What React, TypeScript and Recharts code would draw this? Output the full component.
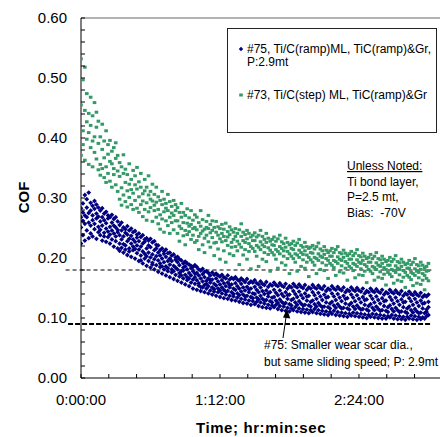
import React from 'react';
import { ScatterChart, Scatter, XAxis, YAxis, ReferenceLine } from 'recharts';

// time in minutes, then COF readings at that time (series #75, blue)
const blueSlices: number[][] = [
  [0, .224, .251, .268, .283], [1, .238, .262, .291, .276], [2, .229, .257, .305, .271], [3, .246, .268, .284, .298],
  [4, .233, .259, .275, .309], [5, .241, .254, .279, .292], [6, .236, .263, .271, .287], [7, .248, .257, .282, .295],
  [8, .232, .266, .274, .289], [9, .243, .252, .269, .284],
  [10, .238, .261, .247, .279], [11, .229, .254, .268, .283], [12, .242, .236, .263, .274], [13, .227, .249, .258, .277],
  [14, .235, .244, .266, .271], [15, .224, .252, .239, .268], [16, .231, .246, .259, .272], [17, .219, .241, .254, .265],
  [18, .228, .236, .251, .268], [19, .216, .243, .247, .261],
  [20, .224, .238, .212, .255], [21, .217, .231, .246, .259], [22, .209, .236, .223, .251], [23, .221, .214, .242, .248],
  [24, .205, .228, .239, .253], [25, .216, .232, .211, .246], [26, .202, .224, .237, .249], [27, .213, .219, .231, .243],
  [28, .199, .227, .215, .245], [29, .208, .221, .234, .239],
  [30, .195, .214, .228, .241], [31, .204, .219, .196, .235], [32, .191, .211, .224, .238], [33, .199, .207, .227, .231],
  [34, .187, .216, .203, .233], [35, .195, .209, .221, .229], [36, .184, .201, .218, .232], [37, .192, .206, .189, .226],
  [38, .181, .213, .198, .228], [39, .188, .203, .216, .222],
  [40, .177, .196, .209, .221], [41, .185, .191, .213, .204], [42, .174, .199, .186, .216], [43, .181, .193, .207, .211],
  [44, .171, .186, .202, .214], [45, .178, .195, .183, .208], [46, .168, .189, .199, .209], [47, .176, .181, .204, .195],
  [48, .165, .187, .178, .206], [49, .172, .184, .197, .201],
  [50, .162, .181, .193, .202], [51, .169, .175, .188, .198], [52, .159, .178, .171, .196], [53, .166, .184, .191, .179],
  [54, .156, .172, .186, .194], [55, .163, .168, .181, .191], [56, .153, .175, .166, .189], [57, .159, .171, .183, .187],
  [58, .149, .164, .178, .185], [59, .157, .168, .174, .188],
  [60, .147, .163, .175, .185], [61, .154, .158, .171, .181], [62, .145, .166, .152, .179], [63, .151, .161, .173, .182],
  [64, .143, .155, .168, .177], [65, .149, .162, .157, .178], [66, .141, .153, .166, .175], [67, .146, .159, .171, .163],
  [68, .139, .151, .164, .176], [69, .144, .157, .148, .172],
  [70, .137, .154, .166, .174], [71, .143, .149, .161, .171], [72, .135, .156, .146, .169], [73, .141, .151, .163, .172],
  [74, .133, .147, .158, .168], [75, .139, .153, .144, .166], [76, .132, .145, .159, .171], [77, .137, .151, .164, .155],
  [78, .130, .143, .156, .167], [79, .136, .149, .140, .165],
  [80, .129, .147, .158, .168], [81, .134, .141, .153, .164], [82, .127, .149, .138, .162], [83, .132, .144, .157, .166],
  [84, .125, .139, .151, .163], [85, .131, .146, .136, .160], [86, .124, .137, .152, .165], [87, .129, .143, .158, .148],
  [88, .122, .135, .149, .161], [89, .128, .141, .133, .159],
  [90, .123, .140, .152, .163], [91, .127, .134, .147, .158], [92, .120, .143, .131, .156], [93, .126, .137, .151, .161],
  [94, .118, .132, .145, .157], [95, .124, .140, .129, .155], [96, .117, .130, .146, .160], [97, .122, .136, .152, .141],
  [98, .116, .128, .143, .156], [99, .121, .134, .126, .154],
  [100, .118, .135, .147, .159], [101, .122, .129, .142, .155], [102, .115, .138, .125, .153], [103, .120, .131, .146, .158],
  [104, .113, .127, .140, .154], [105, .119, .136, .124, .152], [106, .112, .125, .143, .157], [107, .117, .132, .149, .138],
  [108, .111, .123, .139, .153], [109, .116, .130, .121, .151],
  [110, .113, .132, .145, .157], [111, .118, .126, .140, .153], [112, .111, .135, .122, .151], [113, .116, .128, .144, .156],
  [114, .110, .124, .138, .152], [115, .115, .133, .121, .150], [116, .109, .122, .141, .155], [117, .114, .129, .147, .136],
  [118, .108, .121, .137, .151], [119, .113, .127, .119, .149],
  [120, .110, .129, .143, .155], [121, .115, .123, .138, .151], [122, .108, .132, .119, .149], [123, .113, .125, .142, .154],
  [124, .107, .121, .136, .150], [125, .112, .130, .118, .148], [126, .106, .119, .139, .153], [127, .111, .126, .145, .134],
  [128, .105, .118, .135, .149], [129, .110, .124, .116, .147],
  [130, .107, .127, .141, .153], [131, .112, .121, .136, .149], [132, .105, .130, .117, .147], [133, .110, .123, .140, .152],
  [134, .104, .119, .134, .148], [135, .109, .128, .116, .146], [136, .103, .117, .137, .151], [137, .108, .124, .143, .132],
  [138, .102, .116, .133, .147], [139, .107, .122, .114, .145],
  [140, .104, .125, .139, .151], [141, .109, .119, .134, .147], [142, .103, .128, .115, .145], [143, .108, .121, .138, .150],
  [144, .102, .117, .132, .146], [145, .107, .126, .114, .144], [146, .101, .115, .135, .149], [147, .106, .122, .141, .130],
  [148, .100, .114, .131, .145], [149, .105, .120, .112, .143],
  [150, .102, .123, .137, .149], [151, .107, .117, .132, .145], [152, .101, .126, .113, .143], [153, .106, .119, .136, .148],
  [154, .100, .115, .130, .144], [155, .105, .124, .112, .142], [156, .099, .113, .133, .147], [157, .104, .120, .139, .128],
  [158, .099, .112, .129, .143], [159, .103, .118, .110, .141],
  [160, .101, .121, .135, .147], [161, .105, .115, .130, .143], [162, .099, .124, .111, .141], [163, .104, .117, .134, .146],
  [164, .098, .113, .128, .142], [165, .103, .122, .110, .140], [166, .098, .111, .131, .145], [167, .102, .118, .137, .126],
  [168, .097, .110, .127, .141], [169, .102, .116, .108, .139],
  [170, .099, .119, .133, .144], [171, .104, .113, .128, .140], [172, .098, .122, .109, .138], [173, .103, .115, .132, .143],
  [174, .097, .111, .126, .139], [175, .102, .120, .108, .137], [176, .098, .109, .129, .142], [177, .101, .116, .135, .124],
  [178, .099, .108, .125, .138], [179, .103, .114, .110, .136], [180, .105, .118, .127, .139],
];

// time in minutes, then COF readings at that time (series #73, green)
const greenSlices: number[][] = [
  [0, .371, .455, .532], [1, .412, .389, .497], [2, .446, .363, .518], [3, .398, .427, .474], [4, .356, .441, .409],
  [5, .384, .468, .421], [6, .437, .352, .395], [7, .402, .376, .459], [8, .365, .418, .443], [9, .391, .347, .428],
  [10, .356, .402, .338], [11, .381, .423, .349], [12, .334, .367, .395], [13, .412, .352, .326], [14, .373, .341, .389],
  [15, .328, .396, .361], [16, .357, .318, .378], [17, .384, .339, .349], [18, .322, .366, .392], [19, .345, .311, .371],
  [20, .336, .298, .359], [21, .317, .352, .288], [22, .341, .305, .372], [23, .294, .326, .348], [24, .312, .339, .285],
  [25, .357, .301, .323], [26, .289, .331, .314], [27, .308, .346, .281], [28, .322, .296, .337], [29, .283, .315, .351],
  [30, .302, .276, .327], [31, .318, .289, .341], [32, .269, .307, .295], [33, .331, .281, .312], [34, .292, .263, .318],
  [35, .305, .337, .277], [36, .284, .311, .298], [37, .261, .295, .323], [38, .306, .279, .288], [39, .293, .318, .268],
  [40, .281, .257, .302], [41, .296, .272, .248], [42, .265, .289, .311], [43, .277, .243, .298], [44, .291, .262, .283],
  [45, .254, .279, .306], [46, .268, .294, .241], [47, .286, .259, .275], [48, .247, .271, .296], [49, .279, .262, .289],
  [50, .262, .241, .284], [51, .276, .253, .228], [52, .249, .268, .291], [53, .237, .259, .276], [54, .271, .246, .222],
  [55, .258, .282, .239], [56, .244, .267, .253], [57, .231, .256, .279], [58, .263, .238, .249], [59, .251, .272, .226],
  [60, .247, .229, .268], [61, .236, .259, .214], [62, .253, .241, .279], [63, .222, .264, .245], [64, .248, .233, .209],
  [65, .261, .238, .251], [66, .227, .249, .271], [67, .242, .218, .256], [68, .234, .262, .246], [69, .251, .225, .204],
  [70, .243, .226, .261], [71, .215, .238, .252], [72, .249, .232, .198], [73, .227, .256, .241], [74, .236, .212, .248],
  [75, .258, .229, .193], [76, .221, .244, .235], [77, .239, .252, .207], [78, .226, .247, .218], [79, .243, .204, .231],
  [80, .236, .219, .249], [81, .212, .241, .228], [82, .247, .223, .189], [83, .218, .236, .257], [84, .229, .205, .243],
  [85, .239, .214, .226], [86, .198, .232, .246], [87, .224, .241, .211], [88, .235, .182, .219], [89, .216, .238, .229],
  [90, .229, .211, .242], [91, .203, .235, .221], [92, .238, .218, .186], [93, .214, .227, .246], [94, .222, .198, .236],
  [95, .231, .209, .219], [96, .194, .226, .241], [97, .217, .233, .206], [98, .228, .178, .213], [99, .209, .231, .222],
  [100, .221, .205, .235], [101, .198, .228, .214], [102, .232, .211, .183], [103, .207, .219, .238], [104, .216, .192, .227],
  [105, .224, .203, .212], [106, .188, .218, .233], [107, .211, .226, .199], [108, .222, .174, .207], [109, .203, .224, .216],
  [110, .214, .199, .228], [111, .193, .221, .207], [112, .225, .205, .178], [113, .201, .213, .231], [114, .209, .186, .221],
  [115, .218, .197, .206], [116, .183, .212, .226], [117, .205, .219, .193], [118, .216, .169, .201], [119, .197, .218, .209],
  [120, .208, .193, .221], [121, .188, .215, .201], [122, .219, .199, .174], [123, .196, .207, .225], [124, .203, .181, .215],
  [125, .212, .192, .201], [126, .179, .206, .219], [127, .199, .213, .188], [128, .209, .166, .196], [129, .191, .212, .203],
  [130, .203, .188, .216], [131, .184, .209, .196], [132, .214, .194, .171], [133, .191, .202, .219], [134, .198, .177, .209],
  [135, .207, .187, .196], [136, .175, .201, .213], [137, .194, .208, .183], [138, .204, .163, .191], [139, .186, .207, .198],
  [140, .198, .183, .211], [141, .179, .204, .191], [142, .208, .189, .167], [143, .186, .197, .214], [144, .193, .172, .204],
  [145, .202, .182, .191], [146, .171, .196, .208], [147, .189, .203, .178], [148, .199, .159, .186], [149, .181, .201, .193],
  [150, .193, .178, .206], [151, .174, .199, .186], [152, .203, .184, .163], [153, .181, .192, .209], [154, .188, .168, .199],
  [155, .197, .177, .186], [156, .166, .191, .203], [157, .184, .198, .173], [158, .194, .155, .181], [159, .176, .196, .188],
  [160, .188, .173, .201], [161, .169, .194, .181], [162, .198, .179, .158], [163, .176, .187, .204], [164, .183, .163, .194],
  [165, .192, .172, .181], [166, .161, .186, .198], [167, .179, .193, .168], [168, .189, .151, .176], [169, .171, .191, .183],
  [170, .183, .168, .196], [171, .164, .189, .176], [172, .193, .174, .154], [173, .171, .182, .199], [174, .178, .158, .189],
  [175, .187, .167, .176], [176, .156, .181, .193], [177, .174, .188, .163], [178, .184, .147, .171], [179, .166, .186, .178],
  [180, .179, .162, .191],
];

const xTicks = [0, 14.4, 28.8, 43.2, 57.6, 72, 86.4, 100.8, 115.2, 129.6, 144, 158.4, 172.8];
const xLabelTicks = [0, 72, 144];
const xLabels = ['0:00:00', '1:12:00', '2:24:00'];
const yTicks = [0, 0.02, 0.04, 0.06, 0.08, 0.1, 0.12, 0.14, 0.16, 0.18, 0.2, 0.22, 0.24, 0.26, 0.28, 0.3, 0.32, 0.34, 0.36, 0.38, 0.4, 0.42, 0.44, 0.46, 0.48, 0.5, 0.52, 0.54, 0.56, 0.58, 0.6];
const yLabelTicks = [0, 0.1, 0.2, 0.3, 0.4, 0.5, 0.6];
const guideValues = [0.18, 0.09];

const legendItems = [
  ['#75, Ti/C(ramp)ML, TiC(ramp)&Gr,', 'P:2.9mt'],
  ['#73, Ti/C(step) ML, TiC(ramp)&Gr'],
];
const noteLines = ['Ti bond layer,', 'P=2.5 mt,', 'Bias:\u00a0 -70V'];
const scarNote = ['#75: Smaller wear scar dia.,', 'but same sliding speed; P: 2.9mt'];

const toPoints = (slices: number[][]) =>
  slices.flatMap((s) => s.slice(1).map((v) => ({ t: s[0], v })));
const blueData = toPoints(blueSlices);
const greenData = toPoints(greenSlices);

const FONT = '"Liberation Sans", Arial, sans-serif';
const BLUE = '#000080';
const GREEN = '#339966';

const Diamond = (p: any) => {
  const { cx, cy } = p;
  const r = 2.4;
  return <polygon points={`${cx},${cy - r} ${cx + r},${cy} ${cx},${cy + r} ${cx - r},${cy}`} fill={BLUE} />;
};
const Square = (p: any) => {
  const { cx, cy } = p;
  return <rect x={cx - 1.8} y={cy - 1.5} width={3.6} height={3} fill={GREEN} />;
};

const XTick = (p: any) => {
  const { x, y, payload } = p;
  const idx = xLabelTicks.findIndex((t) => Math.abs(t - payload.value) < 1e-6);
  return (
    <g>
      <line x1={x} x2={x} y1={y} y2={y - 4} stroke="#000" strokeWidth={1} />
      {idx >= 0 && (
        <text x={x} y={y + 27} textAnchor="middle" fontSize={15} fontFamily={FONT} fill="#000">
          {xLabels[idx]}
        </text>
      )}
    </g>
  );
};
const YTick = (p: any) => {
  const { x, y, payload } = p;
  const isMajor = yLabelTicks.some((t) => Math.abs(t - payload.value) < 1e-6);
  return (
    <g>
      <line x1={x} x2={x + 4} y1={y} y2={y} stroke="#000" strokeWidth={1} />
      {isMajor && (
        <text x={x - 14} y={y + 5.3} textAnchor="end" fontSize={15} fontFamily={FONT} fill="#000">
          {payload.value.toFixed(2)}
        </text>
      )}
    </g>
  );
};

export default function App() {
  return (
    <div style={{ position: 'absolute', left: 0, top: 0, width: 440, height: 437, overflow: 'hidden', background: '#fff' }}>
      <ScatterChart width={442} height={437} margin={{ top: 18, right: 1, bottom: 0, left: 0 }}>
        <XAxis
          type="number"
          dataKey="t"
          domain={[0, 186.5]}
          allowDataOverflow
          ticks={xTicks}
          interval={0}
          height={59}
          tickSize={0}
          tickMargin={0}
          tickLine={false}
          axisLine={{ stroke: '#000', strokeWidth: 1 }}
          tick={<XTick />}
        />
        <YAxis
          type="number"
          dataKey="v"
          domain={[0, 0.6]}
          allowDataOverflow
          ticks={yTicks}
          interval={0}
          width={81}
          tickSize={0}
          tickMargin={0}
          tickLine={false}
          axisLine={{ stroke: '#000', strokeWidth: 1 }}
          tick={<YTick />}
        />
        <ReferenceLine y={0.6} stroke="#9a9a9a" strokeWidth={1.5} />
        <Scatter data={blueData} shape={<Diamond />} isAnimationActive={false} />
        <Scatter data={greenData} shape={<Square />} isAnimationActive={false} />
        <ReferenceLine
          segment={[{ x: -8, y: guideValues[0] }, { x: 181.5, y: guideValues[0] }]}
          ifOverflow="visible"
          stroke="#000"
          strokeWidth={1}
          strokeDasharray="4 3"
        />
        <ReferenceLine
          segment={[{ x: -6.7, y: guideValues[1] }, { x: 181.5, y: guideValues[1] }]}
          ifOverflow="visible"
          stroke="#000"
          strokeWidth={2}
          strokeDasharray="5 2"
        />
      </ScatterChart>
      <svg width={440} height={437} style={{ position: 'absolute', left: 0, top: 0, pointerEvents: 'none' }} fontFamily={FONT}>
        <text x={23} y={197.5} transform="rotate(-90 23 197.5)" textAnchor="middle" dominantBaseline="central" fontSize={15} fontWeight="bold">
          COF
        </text>
        <text x={261} y={433} textAnchor="middle" fontSize={15} fontWeight="bold" letterSpacing={0.6}>
          Time; hr:min:sec
        </text>
        <rect x={227.5} y={28.5} width={209} height={104} fill="#fff" stroke="#222" strokeWidth={1} />
        <polygon points="241,46.8 243.2,49 241,51.2 238.8,49" fill={BLUE} />
        <text x={247} y={52.5} fontSize={12}>{legendItems[0][0]}</text>
        <text x={247} y={66} fontSize={12}>{legendItems[0][1]}</text>
        <rect x={239.2} y={93.5} width={3.6} height={3} fill={GREEN} />
        <text x={247} y={99} fontSize={12}>{legendItems[1][0]}</text>
        <text x={347} y={170} fontSize={12} textDecoration="underline">Unless Noted:</text>
        {noteLines.map((s, i) => (
          <text key={s} x={347} y={185.5 + i * 15.8} fontSize={12} style={{ whiteSpace: 'pre' }}>{s}</text>
        ))}
        {scarNote.map((s, i) => (
          <text key={s} x={264} y={349 + i * 17} fontSize={12}>{s}</text>
        ))}
        <line x1={283} y1={338} x2={286.2} y2={316} stroke="#000" strokeWidth={1} />
        <polygon points="287,309 290.3,318.5 283,317.5" fill="#000" />
      </svg>
    </div>
  );
}
